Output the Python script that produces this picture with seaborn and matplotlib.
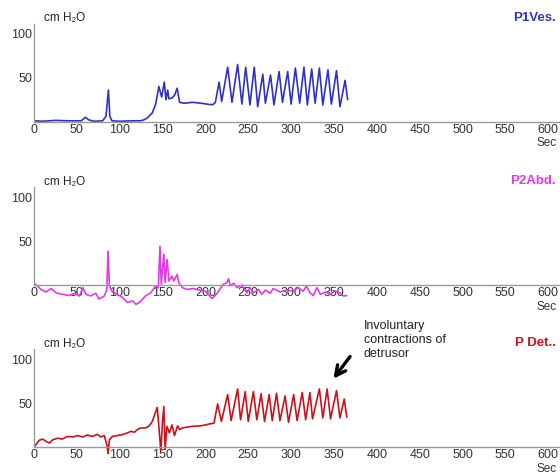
import matplotlib
matplotlib.use("Agg")
import numpy as np
import pandas as pd
import matplotlib.pyplot as plt
import seaborn as sns

# --- traces (time in s, pressure in cm H2O)
ves_t = [0, 10, 25, 40, 55, 60, 64, 70, 80, 84,
         86.8, 88.5, 91, 100, 115, 124, 128, 132, 138, 142,
         145.7, 149, 152, 154, 156, 157.4, 161, 164, 167, 170,
         175, 185, 195, 205, 209, 211.6, 216, 219, 226, 231,
         237.6, 242.6, 247, 252, 257, 261, 267, 270, 276, 280,
         286, 290, 296, 300, 305, 310, 315, 319, 324, 328,
         333, 337, 343, 347, 353, 357, 363, 366]
ves_v = [1, 0.5, 1.5, 1, 1, 5, 2, 0.5, 1, 6,
         36, 6, 1, 0.5, 1, 1, 2, 4, 10, 20,
         40, 28, 45, 25, 36, 26, 27, 30, 38, 22,
         21, 22, 21, 19.5, 19.5, 22, 45, 23, 62, 22,
         65, 20, 62, 19, 62, 17, 54, 21, 53, 19,
         57, 22, 57, 20, 61, 21, 62, 19, 60, 21,
         61, 19, 59, 20, 58, 17, 47, 25]

abd_t = [0, 4, 8, 14, 20, 26, 33, 41, 47, 53,
         57, 60.5, 66, 72, 76, 82, 85, 86.4, 88, 91.5,
         97, 103, 109, 115, 119, 124, 130, 136, 142, 145,
         147, 148.5, 151.5, 153, 155.4, 157.4, 161, 163, 167, 169,
         173, 179, 186, 194, 200, 208, 214, 218, 221, 225,
         227, 229, 233, 237, 243, 248.5, 252, 256, 262, 266,
         270, 275.6, 279, 287, 295, 303, 308, 314, 318, 322,
         326, 330, 334, 340, 345.5, 351, 357, 361, 365]
abd_v = [2, -1, -5, -8, -4, -9, -10.6, -12, -9.5, -12.5,
         -3, -10.6, -12.5, -9.5, -16, -12.5, -5, 38.6, -1, -8,
         -10.6, -14, -20, -18, -22, -19, -12.5, -9, -1, -3,
         44, 1, 35, 3, 29, 4.5, 10, 4.5, 12, 2.6,
         -3, -5, -4, -6, -7, -15.5, -9, -3, 1, 2.6,
         7, -1, 2, -3, 0, -9, -3, -9, -5, -10.6,
         -5.7, -9.5, -4, -8, -5.7, -7, -3, -7, -1, -9,
         -12, -3, -10.6, -8, -10.6, -7, -9, -12.5, -12]

det_t = [0, 2.3, 6, 10, 14, 18, 22, 27.5, 33, 39,
         45, 51, 57, 62, 68, 74, 78, 82, 85, 86.4,
         88, 91.5, 97, 103, 109, 113, 117, 120.5, 124.4, 130,
         134, 138, 143.8, 146, 148, 150, 151.5, 153, 155, 158,
         161, 164, 167.5, 170, 173, 179, 185, 194, 200, 206,
         210, 214.3, 218.6, 226, 230, 237.6, 241, 246.5, 250, 256,
         260, 265, 269, 274.4, 278, 283, 287, 293, 297, 303,
         307, 313, 317, 322, 325, 333, 337, 342, 346, 353,
         357, 362, 365]
det_v = [0, 2.6, 7.6, 9, 6.4, 4.5, 8.3, 10, 9, 12,
         11.4, 13, 11.4, 13.6, 12, 14.4, 11.4, 13, 2.6, -7.6,
         8.3, 12, 13, 14, 16, 17.8, 16.7, 19.7, 21.6, 21.6,
         23.5, 29, 45, 19.7, -5, 30, 46, -3, 23.5, 16,
         25, 13, 24, 19.7, 21.6, 22.7, 23.5, 24, 25, 26.5,
         27, 49, 29, 59.5, 30, 66, 31, 63, 29, 63,
         31, 60.6, 29, 59.5, 30, 61, 30, 58, 28, 59.5,
         30, 62, 31, 62, 32, 66, 33, 66, 32, 64,
         33, 54.5, 34]

channel_names = ["P1Ves.", "P2Abd.", "P Det.."]
channel_colors = ["#3232c2", "#e03ae6", "#c8121e"]
x_ticks = list(range(0, 601, 50))
y_ticks = [50, 100]

sns.set_style("white")
plt.rcParams["font.family"] = ["Liberation Sans", "DejaVu Sans"]

W, H = 560, 476
fig = plt.figure(figsize=(W / 100, H / 100), dpi=100)

def fx(px):
    return px / W

def fy(py):
    return 1 - py / H

# pixel row of the zero line for each panel, 0.88 px per cm H2O
zero_rows = [121.7, 285, 447]
scale = 0.88
ylo, yhi = -25, 111
left_px = 34

series = [(ves_t, ves_v), (abd_t, abd_v), (det_t, det_v)]
axes = []
for i, (tt, vv) in enumerate(series):
    bottom_px = zero_rows[i] - ylo * scale
    height_px = (yhi - ylo) * scale
    ax = fig.add_axes([fx(left_px), fy(bottom_px), 1 - fx(left_px), height_px / H])
    df = pd.DataFrame({"t": tt, "v": vv})
    sns.lineplot(data=df, x="t", y="v", ax=ax, color=channel_colors[i],
                 lw=1.2, estimator=None, sort=False)
    ax.set_xlim(0, (W - left_px) / 0.857)
    ax.set_ylim(ylo, yhi)
    ax.set_xlabel("")
    ax.set_ylabel("")
    for s in ["top", "right"]:
        ax.spines[s].set_visible(False)
    ax.spines["bottom"].set_position(("data", 0))
    ax.spines["left"].set_bounds(0, yhi)
    for s in ["bottom", "left"]:
        ax.spines[s].set_color("#9a9a9a")
        ax.spines[s].set_linewidth(1.0)
    ax.set_xticks(x_ticks)
    ax.set_yticks(y_ticks)
    ax.tick_params(axis="x", direction="in", length=2, pad=1.5, labelsize=9,
                   color="#9a9a9a", labelcolor="#333333")
    ax.tick_params(axis="y", length=0, pad=1.5, labelsize=9, labelcolor="#333333")
    ax.patch.set_alpha(0)
    axes.append(ax)

    # panel texts
    fig.text(fx(64.5), fy(zero_rows[i] - 103.5), "cm H\u2082O", ha="center", va="center",
             fontsize=8.5, color="#222222")
    fig.text(fx(556), fy(zero_rows[i] - 103.5), channel_names[i], ha="right", va="center",
             fontsize=9.5, fontweight="bold", color=channel_colors[i])
    fig.text(fx(547), fy(zero_rows[i] + 21.5), "Sec", ha="center", va="center",
             fontsize=8.5, color="#333333")

# annotation on the detrusor panel
fig.text(fx(364), fy(340), "Involuntary\ncontractions of\ndetrusor", ha="left", va="center",
         fontsize=9, color="#222222", linespacing=1.25)
axes[2].annotate("", xy=(347.4, 75), xytext=(370.7, 105.3),
                 arrowprops=dict(arrowstyle="->", lw=2.4, color="black", mutation_scale=18),
                 annotation_clip=False)

plt.savefig("out.png", dpi=100)
